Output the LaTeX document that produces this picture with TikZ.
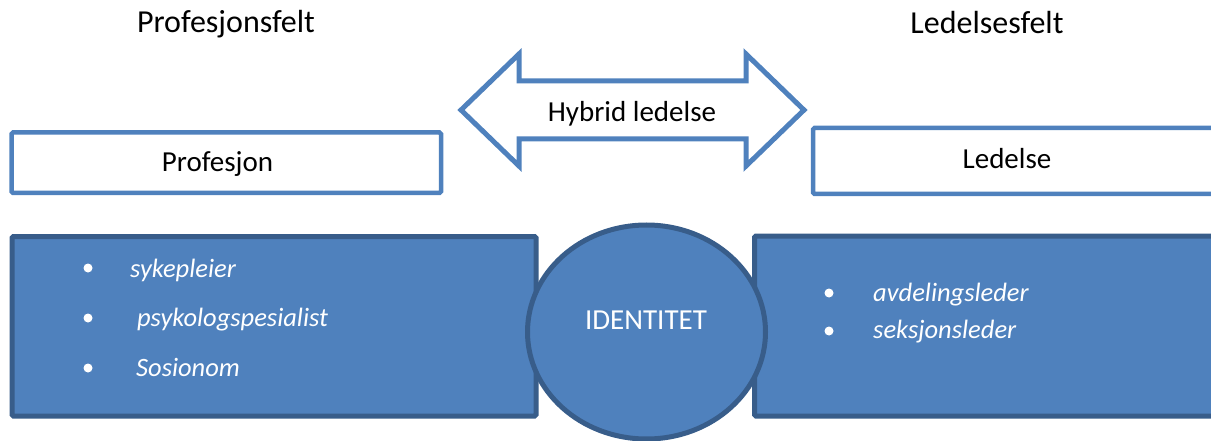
\documentclass[tikz,border=0pt]{standalone}
\usepackage{fontspec}
\setmainfont{Carlito}
\usetikzlibrary{shapes.geometric}
\definecolor{accent}{HTML}{4F81BD}
\definecolor{darkedge}{HTML}{385D8A}
\tikzset{
  lbl/.style={inner sep=0pt, font=\fontsize{29}{35}\selectfont},
  title/.style={inner sep=0pt, anchor=base, font=\fontsize{32}{38}\selectfont},
  whitebox/.style={draw=accent, line width=4.5pt, fill=white, rounded corners=1.5pt},
  darkbox/.style={draw=darkedge, line width=5pt, fill=accent, rounded corners=1.5pt},
  bul/.style={circle, fill=white, inner sep=0pt, minimum size=9pt},
  item/.style={inner sep=0pt, text=white, anchor=base west, font=\fontsize{26.5}{32}\selectfont\itshape},
}
\begin{document}
\begin{tikzpicture}[x=1pt,y=-1pt]
\useasboundingbox (0,0) rectangle (1211,441);
% titles
\node[title] (t1) at (226,33) {Profesjonsfelt};
\node[title] (t2) at (987,34) {Ledelsesfelt};
% double arrow
\draw[draw=accent, line width=5pt, fill=white, line join=miter]
  (461,110) -- (519,54) -- (519,81) -- (746,81) -- (746,54) -- (804,110)
  -- (746,166) -- (746,139) -- (519,139) -- (519,166) -- cycle;
\node[lbl, anchor=base] (hyb) at (632,121.7) {Hybrid ledelse};
% white boxes
\draw[whitebox] (11.5,132.5) rectangle (441,193);
\node[lbl, anchor=base] (prof) at (217.5,172) {Profesjon};
\draw[whitebox] (813,128) rectangle (1225,194);
\node[lbl, anchor=base] (led) at (1007,168) {Ledelse};
% dark boxes
\draw[darkbox] (12,236.5) rectangle (536,416);
\draw[darkbox] (754.5,236) rectangle (1225,416);
% circle
\node[ellipse, draw=darkedge, line width=5pt, fill=accent, minimum width=238pt, minimum height=214pt, inner sep=0pt] (circ) at (646.5,332) {};
\node[lbl, anchor=base, text=white] (id) at (646,329) {IDENTITET};
% left items
\node[bul] (b1) at (88,268) {};
\node[bul] (b2) at (88,318) {};
\node[bul] (b3) at (88,368) {};
\node[item] (i1) at (130,277) {sykepleier};
\node[item] (i2) at (137,326.7) {psykologspesialist};
\node[item] (i3) at (136,376.7) {Sosionom};
% right items
\node[bul] (b4) at (829,293) {};
\node[bul] (b5) at (829,331) {};
\node[item] (i4) at (873,301) {avdelingsleder};
\node[item] (i5) at (873,338) {seksjonsleder};
\end{tikzpicture}
\end{document}
